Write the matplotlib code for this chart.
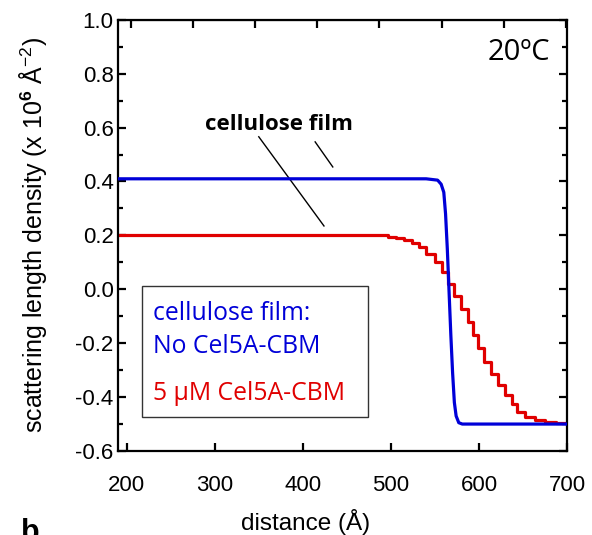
"""Scattering length density profiles of a cellulose film, with and without Cel5A-CBM."""

import numpy as np
import matplotlib
matplotlib.use("Agg")
import matplotlib.pyplot as plt
from matplotlib.patches import Rectangle
from matplotlib.ticker import MultipleLocator

plt.rcParams["font.family"] = ["Liberation Sans", "DejaVu Sans"]
plt.rcParams["mathtext.fontset"] = "custom"
plt.rcParams["mathtext.rm"] = "Liberation Sans"
plt.rcParams["mathtext.bf"] = "Liberation Sans:bold"

# --- data -------------------------------------------------------------------
# no enzyme: smooth drop from film to substrate
blue_x = [190, 540, 553, 557, 560, 562, 564, 566, 568, 570, 572, 574, 577, 581, 700]
blue_y = [0.41, 0.41, 0.405, 0.39, 0.36, 0.28, 0.15, -0.01, -0.17, -0.31, -0.42, -0.47, -0.495, -0.5, -0.5]

# 5 uM Cel5A-CBM: layered (step) profile, left edges of each slab
red_x = [190, 497, 506, 515, 524, 532, 540, 550, 558, 565, 572, 580, 587, 593,
         599, 606, 614, 621, 629, 637, 643, 652, 664, 675, 687, 700]
red_y = [0.20, 0.195, 0.189, 0.182, 0.172, 0.157, 0.131, 0.102, 0.065, 0.020,
         -0.025, -0.073, -0.121, -0.169, -0.218, -0.269, -0.314, -0.355, -0.392,
         -0.425, -0.455, -0.474, -0.485, -0.492, -0.496, -0.5]

x_ticks = [200, 300, 400, 500, 600, 700]
y_ticks = [-0.6, -0.4, -0.2, 0.0, 0.2, 0.4, 0.6, 0.8, 1.0]

BLUE = "#0000d8"
RED = "#e00000"

fig = plt.figure(figsize=(5.92, 5.35), dpi=100)
ax = fig.add_axes([0.199, 0.157, 0.759, 0.806])

ax.plot(blue_x, blue_y, color=BLUE, lw=2.3, solid_joinstyle="round", zorder=3)
ax.step(red_x, red_y, where="post", color=RED, lw=2.3, zorder=2)

ax.set_xlim(190, 700)
ax.set_ylim(-0.6, 1.0)
ax.set_xticks(x_ticks)
ax.set_yticks(y_ticks)
ax.set_yticklabels([f"{v:.1f}" for v in y_ticks])
ax.yaxis.set_minor_locator(MultipleLocator(0.1))
ax.tick_params(which="both", direction="in", top=False, right=True,
               labelsize=16, width=1.6)
ax.tick_params(axis="y", pad=3)
ax.tick_params(axis="x", pad=17)
ax.tick_params(which="major", length=6)
ax.tick_params(which="minor", length=3.5)
for sp in ax.spines.values():
    sp.set_linewidth(1.6)

# top axis carries its own (unlabelled) tick row
top = ax.secondary_xaxis("top")
top.set_xticks(np.arange(205, 700, 70.5))
top.tick_params(direction="in", length=6, width=1.6, labeltop=False)

ax.set_xlabel("distance (Å)", fontsize=17.5)
ax.xaxis.set_label_coords(0.417, -0.135)
ax.set_ylabel(r"scattering length density (x 10$^{\mathbf{6}}$ Å$^{\mathrm{-2}}$)",
              fontsize=18, labelpad=19)

# annotations
ax.text(681, 0.878, "20ºC", ha="right", va="center", fontsize=21, family="Open Sans")
ax.text(373, 0.61, "cellulose film", ha="center", va="center", fontsize=16,
        weight="bold", family="Open Sans")
ax.plot([350, 424], [0.566, 0.235], color="black", lw=1)
ax.plot([414, 434], [0.547, 0.454], color="black", lw=1)

# legend box drawn by hand (coloured text, no handles)
ax.add_patch(Rectangle((218, -0.474), 256, 0.487, fill=False, lw=1, ec="#333333",
                       zorder=4))
ax.text(230, -0.088, "cellulose film:", color=BLUE, fontsize=17.8, family="Open Sans",
        va="center")
ax.text(230, -0.214, "No Cel5A-CBM", color=BLUE, fontsize=17.8, family="Open Sans",
        va="center")
ax.text(230, -0.385, "5 µM Cel5A-CBM", color=RED, fontsize=17.8, family="Open Sans",
        va="center")

# panel letter of the next panel, cut by the bottom edge
fig.text(0.035, -0.025, "b", fontsize=22, weight="bold", va="bottom")

fig.savefig("out.png", dpi=100)
